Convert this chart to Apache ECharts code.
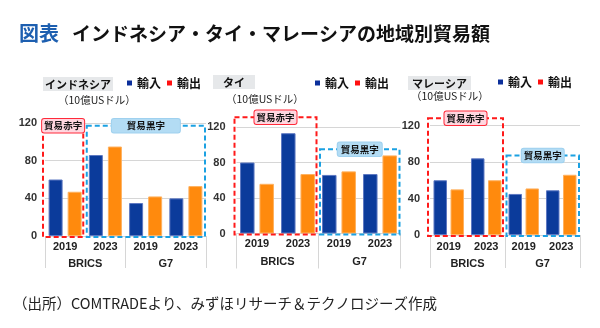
<!DOCTYPE html>
<html>
<head>
<meta charset="utf-8">
<script src="https://cdn.jsdelivr.net/npm/echarts@6/dist/echarts.min.js"></script>
<style>
  html, body { margin: 0; padding: 0; background: #fff; }
  #chart { width: 600px; height: 328px; }
</style>
</head>
<body>
<div id="chart"></div>
<script>
// Trade values, billions of US dollars
const years = ['2019', '2023', '2019', '2023'];
const groups = ['BRICS', 'G7'];
const countries = ['インドネシア', 'タイ', 'マレーシア'];

const importIdn = [60, 86, 35, 40];
const exportIdn = [47, 95, 42, 53];
const importTha = [80, 113, 66, 67];
const exportTha = [56, 67, 70, 88];
const importMys = [60, 84, 45, 49];
const exportMys = [50, 60, 51, 66];

const yMin = 0, yMax = 120, yStep = 40;

const IMPORT = '輸入', EXPORT = '輸出';
const DEFICIT = '貿易赤字', SURPLUS = '貿易黒字';

const LATIN = '"Liberation Sans", "Noto Sans CJK JP", sans-serif';
const JP = '"Noto Sans CJK JP", sans-serif';

const C_IMPORT = '#0b3b9b', C_IMPORT_EDGE = '#5d78c2';
const C_EXPORT = '#ff8a0d', C_EXPORT_EDGE = '#ffb15e';
const C_GRID = '#d6d6d6';

// Layout of each country panel
const panels = [
  { name: countries[0], imp: importIdn, exp: exportIdn,
    grid: { left: 45, top: 123, width: 161, height: 113 },
    yMargin: 8, yearMargin: 5, groupMargin: 22, sepLen: 32,
    barWidth: 14, barGap: '36%',
    nameBox: { left: 43, top: 77, padding: [1, 2, 0, 2] },
    legend: { left: 127, top: 77 },
    unit: { left: 58, top: 95 },
    boxes: [
      { kind: 'deficit', from: 0, to: 0, top: 117, pad: [2, 2] },
      { kind: 'surplus', from: 1, to: 3, top: 117, pad: [2, 15] }
    ] },
  { name: countries[1], imp: importTha, exp: exportTha,
    grid: { left: 236.5, top: 127, width: 164, height: 106.5 },
    yMargin: 11, yearMargin: 5, groupMargin: 23, sepLen: 35,
    barWidth: 14.5, barGap: '34%',
    nameBox: { left: 213, top: 75, padding: [1, 10, 0, 10] },
    legend: { left: 315, top: 77 },
    unit: { left: 226, top: 94 },
    boxes: [
      { kind: 'deficit', from: 0, to: 1, top: 131, pad: [2, 2] },
      { kind: 'surplus', from: 2, to: 3, top: 95, pad: [2, 3] }
    ] },
  { name: countries[2], imp: importMys, exp: exportMys,
    grid: { left: 430, top: 125.5, width: 150, height: 109.5 },
    yMargin: 10, yearMargin: 6, groupMargin: 23, sepLen: 33,
    barWidth: 13.5, barGap: '26%',
    nameBox: { left: 408, top: 76, padding: [1, 4, 0, 4] },
    legend: { left: 498, top: 76 },
    unit: { left: 411, top: 91 },
    boxes: [
      { kind: 'deficit', from: 0, to: 1, top: 128, pad: [2, 2] },
      { kind: 'surplus', from: 2, to: 3, top: 87, pad: [2, 2] }
    ] }
];

const chart = echarts.init(document.getElementById('chart'), null, { renderer: 'canvas' });

const option = {
  animation: false,
  backgroundColor: '#ffffff',
  title: [
    { text: '図表', left: 14, top: 18,
      textStyle: { fontFamily: JP, fontSize: 20, fontWeight: 'bold', color: '#1d5fb0' } },
    { text: 'インドネシア・タイ・マレーシアの地域別貿易額', left: 67, top: 19,
      textStyle: { fontFamily: JP, fontSize: 19, fontWeight: 'bold', color: '#111' } },
    { text: '（出所）COMTRADEより、みずほリサーチ＆テクノロジーズ作成', left: 8, top: 291,
      textStyle: { fontFamily: JP, fontSize: 14.5, fontWeight: 'normal', color: '#222' } }
  ],
  grid: [], xAxis: [], yAxis: [], series: [], legend: []
};

panels.forEach((p, i) => {
  option.grid.push(Object.assign({ outerBoundsMode: 'none', containLabel: false }, p.grid));

  option.title.push({
    text: p.name, left: p.nameBox.left, top: p.nameBox.top, padding: p.nameBox.padding,
    backgroundColor: '#e6e8ea',
    textStyle: { fontFamily: JP, fontSize: 11, fontWeight: 'bold', color: '#111', lineHeight: 13 }
  });
  option.title.push({
    text: '（10億USドル）', left: p.unit.left, top: p.unit.top, padding: 0,
    textStyle: { fontFamily: JP, fontSize: 10.5, fontWeight: 'normal', color: '#222' }
  });

  option.legend.push({
    left: p.legend.left, top: p.legend.top, padding: 0,
    icon: 'rect', itemWidth: 5, itemHeight: 5, itemGap: 6,
    selectedMode: false,
    textStyle: { fontFamily: JP, fontSize: 12, fontWeight: 'bold', color: '#111' },
    data: [
      { name: IMPORT, itemStyle: { color: '#0b2f9b', borderWidth: 0 } },
      { name: EXPORT, itemStyle: { color: '#ff1010', borderWidth: 0 } }
    ]
  });

  option.xAxis.push({
    type: 'category', gridIndex: i, data: years, position: 'bottom',
    axisLine: { show: false }, axisTick: { show: false },
    axisLabel: { margin: p.yearMargin, fontFamily: LATIN, fontSize: 11, fontWeight: 'bold', color: '#222' }
  });
  option.xAxis.push({
    type: 'category', gridIndex: i, data: groups, position: 'bottom',
    axisLine: { show: false },
    axisTick: { show: true, length: p.sepLen, lineStyle: { color: C_GRID, width: 1 } },
    axisLabel: { margin: p.groupMargin, fontFamily: LATIN, fontSize: 11, fontWeight: 'bold', color: '#222' }
  });
  option.yAxis.push({
    type: 'value', gridIndex: i, min: yMin, max: yMax, interval: yStep,
    axisLine: { show: false }, axisTick: { show: false },
    splitLine: { lineStyle: { color: C_GRID, width: 1 } },
    axisLabel: { margin: p.yMargin, fontFamily: LATIN, fontSize: 11, fontWeight: 'bold', color: '#333' }
  });

  option.series.push({
    name: IMPORT, type: 'bar', xAxisIndex: i * 2, yAxisIndex: i, data: p.imp,
    barWidth: p.barWidth, barGap: p.barGap,
    itemStyle: { color: C_IMPORT, borderColor: C_IMPORT_EDGE, borderWidth: 1 }
  });
  option.series.push({
    name: EXPORT, type: 'bar', xAxisIndex: i * 2, yAxisIndex: i, data: p.exp,
    barWidth: p.barWidth, barGap: p.barGap,
    itemStyle: { color: C_EXPORT, borderColor: C_EXPORT_EDGE, borderWidth: 1 }
  });
});

chart.setOption(option);

// Dashed frames marking the deficit / surplus regions, placed through the axes
const graphics = [];
panels.forEach((p, i) => {
  const xAt = c => chart.convertToPixel({ xAxisIndex: i * 2 }, c);
  const yAt = v => chart.convertToPixel({ yAxisIndex: i }, v);
  const band = xAt(1) - xAt(0);
  p.boxes.forEach(b => {
    const red = b.kind === 'deficit';
    const x1 = xAt(b.from) - band / 2 + (red ? -2 : 1.5);
    const x2 = xAt(b.to) + band / 2 + (red ? -2 : -1);
    const y1 = yAt(b.top);
    const y2 = yAt(0) + 1;
    graphics.push({
      type: 'rect', z: 50,
      shape: { x: x1, y: y1, width: x2 - x1, height: y2 - y1 },
      style: { fill: null, stroke: red ? '#ff1a1a' : '#1ba1e2', lineWidth: 2, lineDash: [5, 3] }
    });
    graphics.push({
      type: 'text', z: 60,
      x: (x1 + x2) / 2, y: y1,
      style: {
        text: red ? DEFICIT : SURPLUS,
        font: 'bold 9.5px "Noto Sans CJK JP", sans-serif',
        fill: '#111', align: 'center', verticalAlign: 'middle',
        backgroundColor: red ? '#ffd6df' : '#b3dcf4',
        borderColor: red ? '#ff2a3a' : '#9fd1ef', borderWidth: 1, borderRadius: 2,
        padding: b.pad
      }
    });
  });
});
chart.setOption({ graphic: graphics });
</script>
</body>
</html>
